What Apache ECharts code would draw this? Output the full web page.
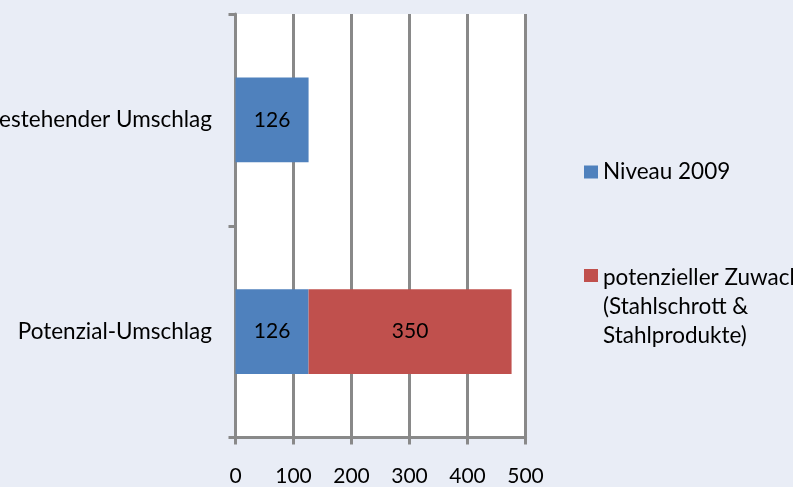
<!DOCTYPE html>
<html>
<head>
<meta charset="utf-8">
<script src="https://cdn.jsdelivr.net/npm/echarts@6/dist/echarts.min.js"></script>
<style>
  html, body { margin: 0; padding: 0; background: #E9EDF6; }
  #chart { width: 793px; height: 487px; }
</style>
</head>
<body>
<div id="chart"></div>
<script>
// Umschlagmengen: bestehend vs. Potenzial
const categories = ['Bestehender Umschlag', 'Potenzial-Umschlag'];
const seriesNames = ['Niveau 2009', 'potenzieller Zuwachs (Stahlschrott & Stahlprodukte)'];
const niveau2009 = [126, 126];
const zuwachs = ['-', 350];
const xTicks = [0, 100, 200, 300, 400, 500];

const FONT = 'Lato';
const AXIS_GRAY = '#898989';
const TEXT_SIZE = 22.5;
const NUM_SIZE = 21;

const chart = echarts.init(document.getElementById('chart'), null, { renderer: 'canvas' });

const labelStyle = {
  show: true,
  position: 'inside',
  color: '#000',
  fontFamily: FONT,
  fontSize: NUM_SIZE
};

// three-line legend entry: square sits beside the first line
const tallSquare = 'path://M0,6L14,6L14,19L0,19Z M0,0L0.01,0 M0,87L0.01,87';

chart.setOption({
  backgroundColor: '#E9EDF6',
  animation: false,
  grid: {
    left: 235.5,
    width: 290,
    top: 14,
    bottom: 49.5,
    containLabel: false,
    outerBoundsMode: 'none',
    show: true,
    backgroundColor: '#ffffff',
    borderWidth: 0
  },
  legend: [
    {
      data: [seriesNames[0]],
      orient: 'vertical',
      left: 584,
      top: 157.5,
      padding: 0,
      itemWidth: 14,
      itemHeight: 13,
      icon: 'rect',
      textStyle: { fontFamily: FONT, fontSize: TEXT_SIZE, color: '#000', lineHeight: 29 }
    },
    {
      data: [seriesNames[1]],
      orient: 'vertical',
      left: 584,
      top: 263,
      padding: 0,
      itemWidth: 14,
      itemHeight: 87,
      icon: tallSquare,
      formatter: function (name) {
        return name.replace(' (', '\n(').replace('& ', '&\n');
      },
      textStyle: { fontFamily: FONT, fontSize: TEXT_SIZE, color: '#000', lineHeight: 29 }
    }
  ],
  xAxis: {
    type: 'value',
    min: xTicks[0],
    max: xTicks[xTicks.length - 1],
    interval: 100,
    axisLine: { show: true, lineStyle: { color: AXIS_GRAY, width: 3 } },
    axisTick: { show: true, length: 7, lineStyle: { color: AXIS_GRAY, width: 3 } },
    splitLine: { show: true, lineStyle: { color: AXIS_GRAY, width: 3 } },
    axisLabel: {
      margin: 28,
      color: '#000',
      fontFamily: FONT,
      fontSize: NUM_SIZE,
      showMinLabel: true,
      showMaxLabel: true
    }
  },
  yAxis: {
    type: 'category',
    data: categories,
    inverse: true,
    axisLine: { show: true, lineStyle: { color: AXIS_GRAY, width: 3 } },
    axisTick: { show: true, length: 7, lineStyle: { color: AXIS_GRAY, width: 3 } },
    axisLabel: {
      margin: 23.5,
      color: '#000',
      fontFamily: FONT,
      fontSize: TEXT_SIZE
    }
  },
  series: [
    {
      name: seriesNames[0],
      type: 'bar',
      stack: 'total',
      data: niveau2009,
      barCategoryGap: '60%',
      itemStyle: { color: '#4F81BD' },
      label: labelStyle
    },
    {
      name: seriesNames[1],
      type: 'bar',
      stack: 'total',
      data: zuwachs,
      barCategoryGap: '60%',
      itemStyle: { color: '#C0504D' },
      label: labelStyle
    }
  ]
});
</script>
</body>
</html>
